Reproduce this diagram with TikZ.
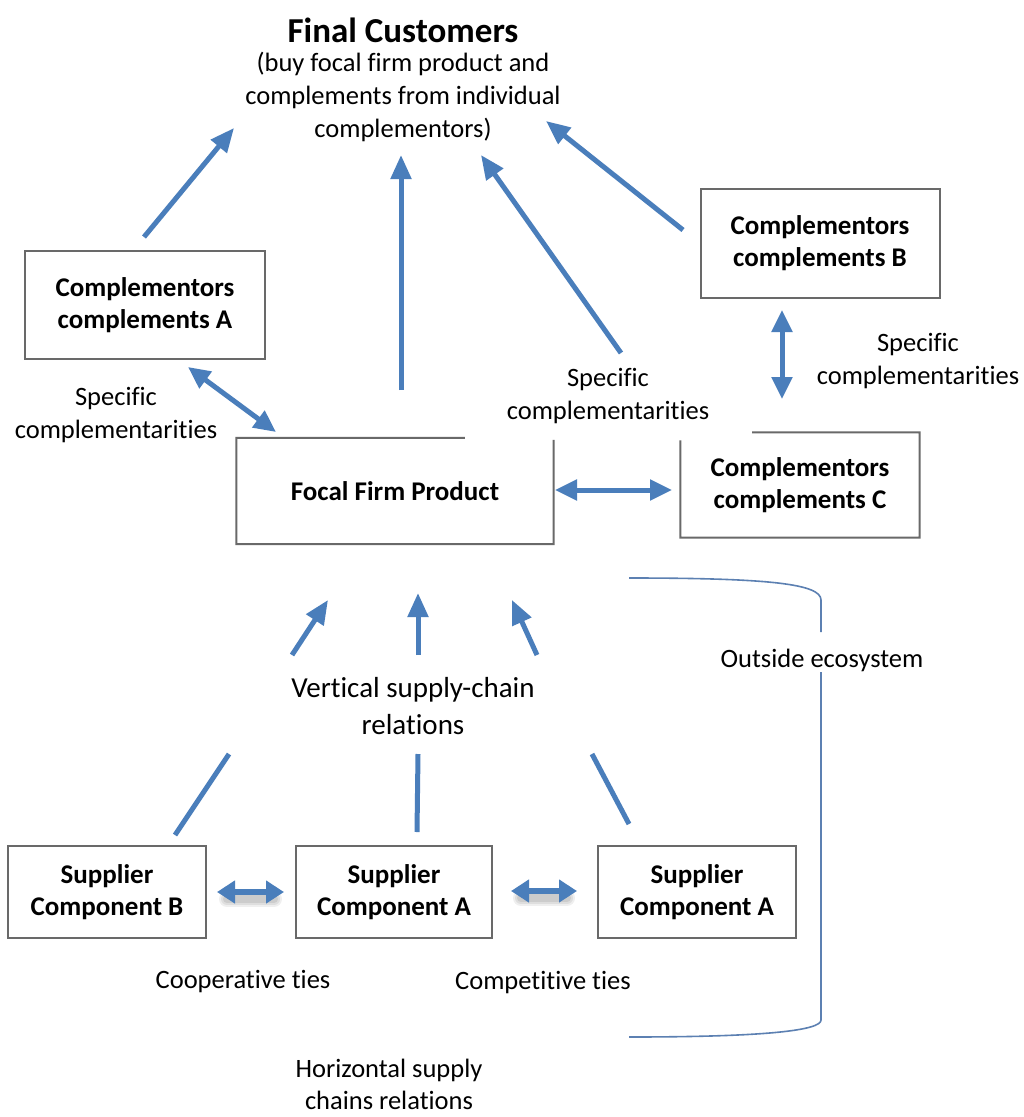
\documentclass[tikz,border=0pt]{standalone}
\usepackage{fontspec}
\setmainfont{Carlito}[Ligatures={NoCommon}]
\usetikzlibrary{arrows.meta,calc}
\definecolor{ablue}{RGB}{74,126,187}
\definecolor{bgray}{RGB}{105,105,105}
\definecolor{brblue}{RGB}{92,128,178}
\begin{document}
\begin{tikzpicture}[x=1pt,y=-1pt,
  boxbase/.style={inner sep=0pt,align=center,font=\fontsize{27}{32}\selectfont\bfseries},
  box/.style={boxbase,draw=bgray,line width=2pt},
  lbl/.style={inner sep=0pt,align=center,font=\fontsize{26.5}{33}\selectfont},
  conn/.style={draw=ablue,line width=5pt,-{Triangle[length=24pt,width=20pt]}},
  biconn/.style={draw=ablue,line width=5pt,{Triangle[length=22pt,width=20pt]}-{Triangle[length=22pt,width=20pt]}},
  smallbi/.style={draw=ablue,line width=6pt,{Triangle[length=18pt,width=22pt]}-{Triangle[length=18pt,width=22pt]}},
  plainline/.style={draw=ablue,line width=5pt},
  outline/.style={draw=bgray,line width=2pt},
  bracket/.style={draw=brblue,line width=1.6pt}]
\useasboundingbox[fill=white] (0,0) rectangle (1024,1117);

% title
\node[inner sep=0pt,font=\fontsize{35}{40}\selectfont\bfseries] (title) at (403,30) {Final Customers};
\node[lbl] (sub) at (403,97) {(buy focal firm product and\\complements from individual\\complementors)};

% boxes
\node[box,minimum width=240pt,minimum height=108pt] (compA) at (145,305) {Complementors\\complements A};
\node[box,minimum width=239pt,minimum height=109pt] (compB) at (820,243) {Complementors\\complements B};
\node[boxbase,minimum width=317pt,minimum height=106pt] (focal) at (395,491) {Focal Firm Product};
\node[boxbase,minimum width=239pt,minimum height=105pt] (compC) at (800,485) {Complementors\\complements C};
\draw[outline] ($(focal.north west)!0.72!(focal.north east)$) -- (focal.north west) -- (focal.south west) -- (focal.south east) -- ($(focal.north east)+(0,2)$);
\draw[outline] ($(compC.north west)!0.30!(compC.north east)$) -- (compC.north east) -- (compC.south east) -- (compC.south west) -- ($(compC.north west)+(0,8)$);

\node[box,minimum width=198pt,minimum height=92pt] (supB) at (107,892) {Supplier\\Component B};
\node[box,minimum width=196pt,minimum height=92pt] (supA1) at (394,892) {Supplier\\Component A};
\node[box,minimum width=198pt,minimum height=92pt] (supA2) at (697,892) {Supplier\\Component A};

% labels
\node[lbl] (specL) at (116,415) {Specific\\complementarities};
\node[lbl] (specM) at (608,396) {Specific\\complementarities};
\node[lbl] (specR) at (918,361) {Specific\\complementarities};
\node[lbl,font=\fontsize{29}{37}\selectfont] (vert) at (413,706) {Vertical supply-chain\\relations};
\node[lbl] (outside) at (822,660) {Outside ecosystem};
\node[lbl] (coop) at (243,982) {Cooperative ties};
\node[lbl] (comp) at (543,983) {Competitive ties};
\node[lbl,font=\fontsize{26.5}{32}\selectfont] (horiz) at (389,1084) {Horizontal supply\\chains relations};

% coordinates for free ends
\coordinate (a1s) at (144,237); \coordinate (a1e) at (234,128);
\coordinate (a2s) at (401,390); \coordinate (a2e) at (401,155);
\coordinate (a3s) at (621,353); \coordinate (a3e) at (481,155);
\coordinate (a4s) at (683,230); \coordinate (a4e) at (546,121);
\coordinate (dAs) at (188,367); \coordinate (dAe) at (276,432);
\coordinate (dBs) at (782,310); \coordinate (dBe) at (782,399);
\coordinate (dCs) at (555,490); \coordinate (dCe) at (672,490);
\coordinate (v1s) at (292,655); \coordinate (v1e) at (328,600);
\coordinate (v2s) at (418,655); \coordinate (v2e) at (418,593);
\coordinate (v3s) at (537,655); \coordinate (v3e) at (512,600);
\coordinate (l1s) at (229,754); \coordinate (l1e) at (175,835);
\coordinate (l2s) at (418,754); \coordinate (l2e) at (417,832);
\coordinate (l3s) at (592,754); \coordinate (l3e) at (629,824);
\coordinate (h1s) at (217,892); \coordinate (h1e) at (284,892);
\coordinate (h2s) at (511,891); \coordinate (h2e) at (577,891);

% arrows to final customers
\draw[conn] (a1s) -- (a1e);
\draw[conn] (a2s) -- (a2e);
\draw[conn] (a3s) -- (a3e);
\draw[conn] (a4s) -- (a4e);

% complementarities
\draw[biconn] (dAs) -- (dAe);
\draw[biconn] (dBs) -- (dBe);
\draw[biconn] (dCs) -- (dCe);

% vertical supply chain
\draw[conn] (v1s) -- (v1e);
\draw[conn] (v2s) -- (v2e);
\draw[conn] (v3s) -- (v3e);
\draw[plainline] (l1s) -- (l1e);
\draw[plainline] (l2s) -- (l2e);
\draw[plainline] (l3s) -- (l3e);

% horizontal ties with soft shadow
\foreach \o/\w in {0.10/16,0.12/12,0.15/8}{
  \draw[black!60,opacity=\o,line width=\w pt,line cap=round] ($(h1s)+(10,7)$) -- ($(h1e)+(-10,7)$);
  \draw[black!60,opacity=\o,line width=\w pt,line cap=round] ($(h2s)+(10,7)$) -- ($(h2e)+(-10,7)$);
}
\draw[smallbi] (h1s) -- (h1e);
\draw[smallbi] (h2s) -- (h2e);

% outside ecosystem bracket
\coordinate (brT) at (629,578);
\coordinate (brB) at (629,1037);
\draw[bracket] (brT) .. controls (770,578) and (821,584) .. (821,600) -- (821,632);
\draw[bracket] (821,672) -- (821,1020) .. controls (821,1030) and (770,1037) .. (brB);
\end{tikzpicture}
\end{document}
